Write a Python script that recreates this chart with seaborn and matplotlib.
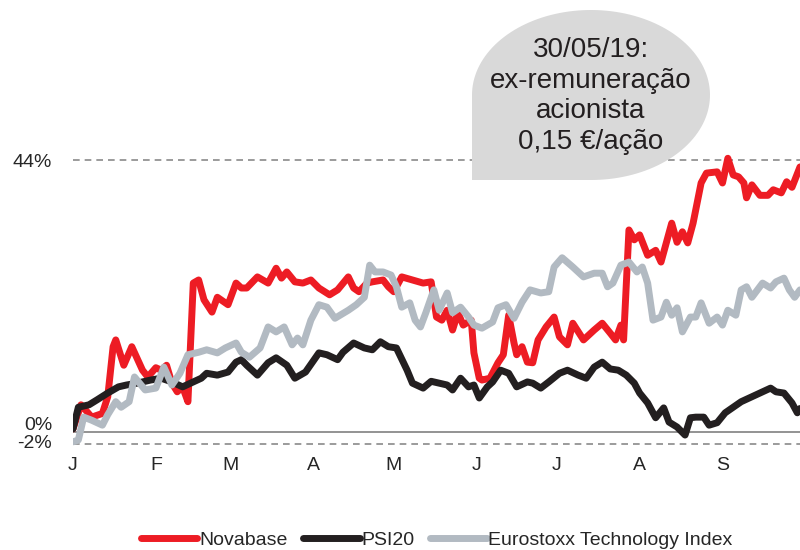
import numpy as np
import pandas as pd
import matplotlib
matplotlib.use("Agg")
import matplotlib.pyplot as plt
import seaborn as sns
from matplotlib.path import Path
from matplotlib.patches import PathPatch
from matplotlib.transforms import ScaledTranslation

# ============================================================
# DATA (days since 01/01/2019, performance in %)
# ============================================================

nova_days = [0, 3, 7, 11, 13, 15, 16, 19, 22, 26, 28, 31, 33, 35, 37, 39, 41, 43,
             45, 47, 49, 52, 54, 58, 61, 63, 65, 69, 73, 76, 78, 80, 83, 86, 89,
             92, 96, 99, 103, 105, 107, 110, 112, 116, 118, 120, 123, 127, 131,
             134, 136, 138, 140, 142, 144, 146, 149, 150, 152, 153, 156, 159, 161,
             163, 165, 166, 168, 170, 172, 174, 177, 180, 182, 185, 187, 191, 195,
             198, 201, 203, 205, 206, 208, 210, 212, 215, 218, 220, 224, 226, 228,
             230, 232, 235, 237, 241, 243, 245, 247, 249, 251, 252, 254, 257, 260,
             262, 265, 267, 269, 272]
nova_vals = [0.5, 4.4, 2.4, 3.0, 5.7, 13.8, 14.9, 10.8, 13.8, 10.0, 8.9, 10.4, 10.0,
             10.8, 7.9, 6.5, 7.3, 4.9, 24.1, 24.6, 21.4, 19.4, 21.8, 20.6, 24.1,
             23.3, 23.3, 25.1, 24.1, 26.5, 24.9, 25.9, 24.3, 24.1, 24.6, 23.3, 22.2,
             23.0, 25.1, 23.3, 22.7, 24.1, 24.3, 24.6, 23.5, 22.7, 25.1, 24.6, 24.1,
             24.3, 18.6, 18.1, 19.7, 16.5, 19.3, 17.3, 18.1, 12.8, 8.7, 8.4, 8.7,
             11.2, 12.5, 18.9, 14.4, 12.5, 13.8, 11.3, 11.2, 14.9, 17.0, 18.6, 15.4,
             14.1, 17.6, 14.9, 16.5, 17.6, 16.0, 14.9, 17.3, 14.9, 32.7, 31.1, 31.9,
             28.6, 29.4, 27.5, 33.8, 30.7, 32.4, 30.6, 33.8, 40.3, 41.9, 42.1, 40.3,
             44.3, 41.6, 41.3, 40.3, 37.9, 40.0, 38.3, 38.3, 39.2, 38.7, 40.5, 39.6,
             42.9]

psi_days = [0, 2, 6, 9, 13, 17, 20, 24, 29, 33, 37, 41, 45, 48, 50, 54, 58, 61, 63,
            65, 69, 73, 76, 80, 83, 87, 92, 95, 99, 101, 105, 109, 112, 115, 118,
            121, 125, 127, 131, 134, 137, 140, 142, 145, 148, 150, 152, 155, 157,
            160, 163, 166, 170, 172, 175, 178, 182, 185, 189, 192, 195, 198, 201,
            204, 207, 210, 212, 215, 218, 221, 223, 226, 229, 231, 233, 236, 238,
            241, 244, 247, 250, 253, 257, 261, 263, 266, 269, 271, 272]
psi_vals = [0.5, 4.0, 4.4, 5.2, 6.3, 7.3, 7.6, 7.9, 8.4, 8.7, 8.1, 7.3, 8.1, 8.7, 9.5,
            9.2, 9.7, 11.3, 11.7, 10.8, 9.2, 11.2, 12.0, 10.8, 8.7, 9.7, 12.8, 12.5,
            11.7, 12.9, 14.4, 13.6, 13.3, 14.6, 13.8, 13.6, 10.0, 7.9, 7.1, 8.2, 7.9,
            7.6, 6.8, 8.7, 7.3, 7.6, 5.5, 7.3, 8.1, 10.0, 9.5, 7.3, 8.1, 7.9, 7.1,
            8.1, 9.5, 10.0, 9.2, 8.7, 10.5, 11.3, 10.2, 10.0, 9.2, 7.9, 6.3, 4.7,
            2.3, 3.9, 1.6, 0.8, -0.5, 2.3, 2.4, 2.4, 1.1, 1.5, 3.1, 4.0, 4.9, 5.5,
            6.3, 7.1, 6.5, 6.3, 4.7, 3.1, 3.8]

euro_days = [0, 2, 4, 7, 11, 13, 16, 18, 21, 23, 27, 31, 34, 37, 40, 43, 47, 50, 54,
             57, 61, 63, 66, 70, 73, 76, 79, 82, 84, 86, 89, 92, 95, 98, 103, 106,
             109, 111, 113, 116, 119, 121, 123, 126, 128, 130, 132, 135, 137, 140,
             142, 145, 148, 150, 153, 157, 159, 162, 165, 168, 171, 175, 178, 180,
             183, 187, 191, 195, 198, 200, 202, 205, 208, 211, 213, 215, 217, 220,
             222, 224, 226, 228, 231, 233, 235, 238, 241, 243, 245, 248, 250, 252,
             254, 258, 261, 263, 266, 268, 270, 272]
euro_vals = [-1.6, -1.3, 2.4, 1.9, 1.1, 2.8, 4.9, 4.0, 4.9, 8.9, 6.8, 7.1, 10.5, 7.6,
             9.5, 12.5, 12.9, 13.3, 12.8, 13.6, 14.4, 12.9, 12.1, 13.6, 17.0, 16.2,
             17.0, 14.1, 15.2, 14.1, 18.1, 20.6, 20.2, 18.4, 19.7, 20.6, 21.8, 27.0,
             25.9, 25.9, 25.4, 23.5, 20.2, 20.9, 18.1, 17.0, 19.3, 23.0, 19.7, 22.5,
             19.3, 20.2, 18.6, 17.3, 16.8, 17.8, 20.1, 20.6, 18.4, 21.0, 23.0, 22.5,
             22.7, 26.7, 28.2, 26.7, 25.1, 25.7, 25.7, 23.5, 24.1, 27.0, 27.5, 25.9,
             26.7, 24.1, 18.1, 18.6, 21.0, 18.9, 20.1, 16.2, 18.6, 18.6, 20.9, 17.6,
             18.6, 17.3, 19.7, 18.9, 23.0, 23.5, 21.8, 24.1, 23.3, 24.3, 24.9, 23.0,
             21.8, 23.0]

series_names = ["Novabase", "PSI20", "Eurostoxx Technology Index"]
series_colors = ["#ed1c24", "#231f20", "#b2bac2"]

month_days = [0, 31, 59, 90, 120, 151, 181, 212, 243]
month_labels = ["J", "F", "M", "A", "M", "J", "J", "A", "S"]

ytick_vals = [44, 0, -2]
ytick_labels = ["44%", "0%", "-2%"]

note_text = "30/05/19:\nex-remuneração\nacionista\n0,15 €/ação"

# ============================================================
# BUILD TABLE
# ============================================================

start = pd.Timestamp("2019-01-01")
frames = []
for name, d, v in zip(series_names, [nova_days, psi_days, euro_days],
                      [nova_vals, psi_vals, euro_vals]):
    frames.append(pd.DataFrame({"date": start + pd.to_timedelta(d, unit="D"),
                                "value": v, "serie": name}))
df = pd.concat(frames, ignore_index=True)

# ============================================================
# PLOT
# ============================================================

sns.set_theme(style="white")
plt.rcParams["font.family"] = ["Liberation Sans", "DejaVu Sans"]

fig = plt.figure(figsize=(8, 5.5), dpi=100)
ax = fig.add_axes([0.09125, 0.1809, 0.90875, 0.5729])

ax.axhline(44, color="#8a8a8a", lw=1.2, ls=(0, (4, 3)), zorder=1)
ax.axhline(-2, color="#8a8a8a", lw=1.2, ls=(0, (4, 3)), zorder=1)
ax.axhline(0, color="#8a8a8a", lw=1.3, zorder=1)

sns.lineplot(data=df, x="date", y="value", hue="serie", hue_order=series_names,
             palette=dict(zip(series_names, series_colors)), lw=5, ax=ax,
             legend=False, estimator=None, sort=True)

ax.set_xlim(start, start + pd.Timedelta(days=272))
ax.set_ylim(-3, 48)
ax.set_xlabel("")
ax.set_ylabel("")
for s in ax.spines.values():
    s.set_visible(False)

ax.set_xticks(start + pd.to_timedelta(month_days, unit="D"))
ax.set_xticklabels(month_labels, fontsize=14)
ax.set_yticks(ytick_vals)
ax.set_yticklabels(ytick_labels, fontsize=14)
ax.tick_params(axis="both", length=0)
ax.tick_params(axis="y", pad=15)
ax.tick_params(axis="x", pad=5)

# nudge the 0% and -2% labels so they do not collide
for lab, dy in zip(ax.get_yticklabels(), [0, 6.0, 2.0]):
    lab.set_transform(lab.get_transform() + ScaledTranslation(0, dy / 72, fig.dpi_scale_trans))

# speech bubble (figure pixel geometry)
W, H = 800, 550
cx, cy, a, b = 591 / W, 1 - 95 / H, 119 / W, 85 / H
t = np.linspace(-np.pi / 2, np.pi, 120)
pts = list(zip(cx + a * np.cos(t), cy + b * np.sin(t)))
pts.append((cx - a, cy - b))
pts.append(pts[0])
codes = [Path.MOVETO] + [Path.LINETO] * (len(pts) - 2) + [Path.CLOSEPOLY]
bubble = PathPatch(Path(pts, codes), transform=fig.transFigure,
                   facecolor="#d9d9d9", edgecolor="none", zorder=5)
fig.patches.append(bubble)
fig.text(cx, 1 - 96 / H, note_text, ha="center", va="center", fontsize=20,
         linespacing=1.22, color="#231f20", zorder=6)

handles = ax.get_lines()[3:6]
fig.legend(handles, series_names, loc="lower center", bbox_to_anchor=(0.546, -0.03),
           ncol=3, frameon=False, fontsize=14, handlelength=2.9,
           handletextpad=0.1, columnspacing=0.8)

fig.savefig("out.png", dpi=100)
